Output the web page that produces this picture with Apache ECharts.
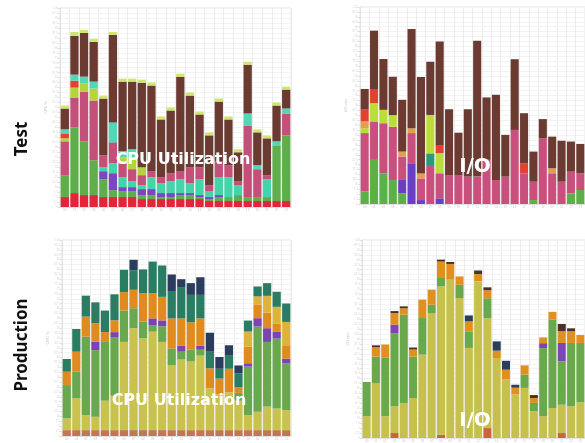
<!DOCTYPE html>
<html>
<head>
<meta charset="utf-8">
<script src="https://cdn.jsdelivr.net/npm/echarts@6/dist/echarts.min.js"></script>
<style>
  html, body { margin: 0; padding: 0; background: #fff; }
  #chart { width: 585px; height: 443px; }
</style>
</head>
<body>
<div id="chart"></div>
<script>
// hourly buckets, same for all four panels
const hours = ["00","01","02","03","04","05","06","07","08","09","10","11",
               "12","13","14","15","16","17","18","19","20","21","22","23"];

// Test - CPU Utilization (stacked, bottom -> top)
const testCpuRed    = [5,7,6,6,5,5,5,5,4,4,4,4,4,4,4,3,3,3,3,3,3,3,3,3];
const testCpuGreen  = [11,33,27,17.5,9,3.5,3,3,2,2,1,1,2,2,1,1,2,2,3,2,2,2,28,33];
const testCpuPurple = [0,0,0,0,4,8.5,2,2,3,3,2,2,1,1,1,1,1,0,0,0,0,0,0,0];
const testCpuAqua   = [0,0,0,0,2,5,5,3,2,6,5,6,7,5,8,3,9,10,5,0,0,9,0,0];
const testCpuPink   = [17,15,25,30,6,10.5,7,6,5,3,3,4,4,8,6,3,8,6,2,36,14,2,0,11];
const testCpuLime   = [1.5,5,4,6,0,0,3,6,4,0,0,0,0,0,0,0,0,0,0,0,0,0,0,0];
const testCpuOrange = [2.5,3.5,0,0,0,0,0,0,0,0,0,0,0,0,0,0,0,0,0,0,0,0,0,0];
const testCpuMint   = [2,3,3.5,3.5,0,10,3,4,0,0,0,0,0,0,0,0,0,0,0,6,2,0,2,2.5];
const testCpuBrown  = [10.5,19.5,22,20,28.5,44,35,34,42.5,43,29,31.5,47.5,36,26.5,25,30,23,14.5,24.5,16.5,18.5,18,9.5];
const testCpuCap    = [1.5,2,1.5,1.5,1.5,1.5,1.5,1.5,1.5,1.5,1.5,1.5,1.5,1.5,1.5,1.5,1.5,1.5,1.5,1.5,1.5,1.5,1.5,1.5];

// Test - I/O
const testIoGreen  = [6.3,22.4,15.6,12.2,5.4,0,0,0,0,0,0,0,0,0,0,0,0,0,2,0,0,0,5.4,7.1];
const testIoPurple = [0,0,0,0,6.8,20.7,2,0,2.9,0,0,0,0,0,0,0,0,0,0,0,0,0,0,0];
const testIoPink   = [29.7,19.5,25.4,27,11.9,15.3,11,19.8,12.7,14.7,14.7,13.9,13.9,22.4,12.2,13.9,37.6,15.6,9.3,33.4,15.6,11.3,11,8.5];
const testIoTeal   = [0,0,0,0,0,0,0,5.9,0,0,0,0,0,0,0,0,0,0,0,0,0,0,0,0];
const testIoLime   = [2.5,9.3,6.8,5.9,0,0,0,19.5,10.2,0,0,0,0,0,0,0,0,0,0,0,0,0,0,0];
const testIoTan    = [3.4,0,0,0,2.5,2.5,2.5,0,0,0,0,0,0,0,0,0,0,0,0,0,2.5,0,0,0];
const testIoRed    = [6,6.8,0,0,0,0,0,0,4.2,0,0,0,0,0,0,0,0,5.1,0,0,0,0,0,0];
const testIoBrown  = [10.5,30,25.8,19.5,26.3,50.3,49,27,52.5,33.4,21.5,34.2,69,31.7,43.2,21.2,35.9,25.4,15.3,9.7,16.1,20.8,15.3,14.9];

// Production - CPU Utilization
const prodCpuBase   = [3,3,3,3,3,3,3,3,3,3,3,3,3,3,3,3,3,3,3,3,3,3,3,3];
const prodCpuOlive  = [6,16.2,7.7,6.8,15,17.5,45,52,46.8,50.2,45,33.2,36,35,38,21.3,18.3,19.3,15,7.7,9.4,12,11,10.2];
const prodCpuGreen  = [17,13.6,40,34,30,30,16,10.2,8.5,3.4,8,8.5,4,6,3,0,0,0,4,24.7,43.4,33,35.7,23.8];
const prodCpuPurple = [0,0,0,4.3,0,2.5,0,0,0,3.4,3,0,3,0,2,0,0,0,0,1.7,4.3,7,3.4,2.5];
const prodCpuOrange = [6.8,10.2,10.2,9.4,5,6,9.4,9.4,14.5,12.8,12,15.3,14,14,14,10.2,8,12,3,8.5,6.8,8,4.3,6.8];
const prodCpuYellow = [0,0,0,0,0,0,0,0,0,0,0,0,0,0,0,0,0,0,0,7.7,4.3,8.5,8.5,11.9];
const prodCpuTeal   = [6.5,11.6,10.7,10.7,11,13.3,11.4,10,12.2,16.2,16,13.6,16,14,12,8.5,5,7,7,5.6,5.1,6.5,7.7,9.4];
const prodCpuNavy   = [0,0,0,0,0,0,0,5.3,0,0,0,8.8,4,6,9,9.7,6,5,4,0,0,0,0,0];

// Production - I/O
const prodIoBase   = [0,0,0,2.5,0,0,0,0,1.7,0,0,0,0,5,0,0,0,0,0,0,0,2.5,0,0];
const prodIoOlive  = [11,27.6,11,13.5,17.7,20.2,42.1,63.1,74.9,80,70.7,45.5,79.1,55.5,40.4,29.5,22,25.3,13.5,10.9,15.2,14.3,16,18];
const prodIoGreen  = [17.3,13.5,29.5,37,44.6,21,18.5,4.2,4.2,0,6.7,8.4,0,10.1,0,0,0,6.7,4.2,34.5,44.6,21.9,32,30];
const prodIoPurple = [0,0,0,4.2,0,0,0,0,0,0,0,0,0,0,0,0,0,0,0,2.5,0,9.3,0,0];
const prodIoOrange = [0,4.7,6.7,5.9,3.2,3.5,9.3,7.6,8.3,7.9,4.2,5,3.7,4,3.7,5,3.4,4.7,2.5,2.9,3.9,5.9,5.9,4];
const prodIoNavy   = [0,0,0,0,0,0,0,0,0,0,0,3,0,0,4.7,4.5,1.5,0,0,0,0,0,0,0];
const prodIoDark   = [0,1,0,1,1,1,0,0,1,1,0,0,1.8,1.5,0,0,0,0,1.5,0,0,3.7,1.5,0];

const stackSeries = (idx, parts) =>
  parts.map(([name, data, color]) => ({
    name: name,
    type: "bar",
    stack: "s" + idx,
    xAxisIndex: idx,
    yAxisIndex: idx,
    data: data,
    barCategoryGap: "14%",
    itemStyle: { color: color },
    emphasis: { disabled: true },
  }));

const xAxisFor = (idx) => ({
  type: "category",
  gridIndex: idx,
  data: hours,
  axisLine: { lineStyle: { color: "#e2e2e2" } },
  axisTick: { show: false },
  axisLabel: { fontSize: 3, color: "#c8c8c8", margin: 2 },
  splitLine: { show: true, lineStyle: { color: "#ececec", width: 1 } },
});

const yAxisFor = (idx, name) => ({
  type: "value",
  gridIndex: idx,
  min: 0,
  max: 100,
  interval: 2.5,
  name: name,
  nameLocation: "middle",
  nameGap: 9,
  nameTextStyle: { fontSize: 4, color: "#b8c6d6" },
  axisLine: { show: true, lineStyle: { color: "#e2e2e2" } },
  axisTick: { show: true, length: 2, lineStyle: { color: "#e0e0e0" } },
  axisLabel: { fontSize: 3, color: "#d4d4d4", margin: 2 },
  splitLine: { lineStyle: { color: "#f3f3f3", width: 1 } },
});

const overlay = (text, x, y, size) => ({
  type: "text",
  x: x,
  y: y,
  z: 100,
  style: {
    text: text,
    fill: "#ffffff",
    font: "bold " + size + "px 'DejaVu Sans'",
    textAlign: "center",
    textVerticalAlign: "middle",
    shadowColor: "rgba(0,0,0,0.35)",
    shadowBlur: 3,
  },
});

const rowLabel = (text, y) => ({
  type: "text",
  x: 22,
  y: y,
  rotation: Math.PI / 2,
  style: {
    text: text,
    fill: "#111",
    font: "bold 17px 'Noto Sans'",
    textAlign: "center",
    textVerticalAlign: "middle",
  },
});

const chart = echarts.init(document.getElementById("chart"), null, { renderer: "canvas" });
chart.setOption({
  animation: false,
  backgroundColor: "#ffffff",
  grid: [
    { left: 60, top: 8, width: 231, height: 199, show: true, borderColor: "#e4e4e4" },
    { left: 360, top: 7, width: 232, height: 197, show: true, borderColor: "#e4e4e4" },
    { left: 62, top: 240, width: 229, height: 196, show: true, borderColor: "#e4e4e4" },
    { left: 362, top: 240, width: 232, height: 198, show: true, borderColor: "#e4e4e4" },
  ],
  xAxis: [xAxisFor(0), xAxisFor(1), xAxisFor(2), xAxisFor(3)],
  yAxis: [
    yAxisFor(0, "CPU %"),
    yAxisFor(1, "I/O ops"),
    yAxisFor(2, "CPU %"),
    yAxisFor(3, "I/O ops"),
  ],
  series: [
    ...stackSeries(0, [
      ["red", testCpuRed, "#e2263a"],
      ["green", testCpuGreen, "#5fae4b"],
      ["purple", testCpuPurple, "#7d45c2"],
      ["aqua", testCpuAqua, "#45d3a9"],
      ["pink", testCpuPink, "#c44f78"],
      ["lime", testCpuLime, "#b5d43a"],
      ["orange", testCpuOrange, "#e2432f"],
      ["mint", testCpuMint, "#52d8b6"],
      ["brown", testCpuBrown, "#6b3b32"],
      ["cap", testCpuCap, "#cde86a"],
    ]),
    ...stackSeries(1, [
      ["green", testIoGreen, "#5bb046"],
      ["purple", testIoPurple, "#6a3fc6"],
      ["pink", testIoPink, "#c9507c"],
      ["teal", testIoTeal, "#2a9a78"],
      ["lime", testIoLime, "#bcdc3a"],
      ["tan", testIoTan, "#e0a050"],
      ["red", testIoRed, "#e2432f"],
      ["brown", testIoBrown, "#6b3b32"],
    ]),
    ...stackSeries(2, [
      ["base", prodCpuBase, "#c47650"],
      ["olive", prodCpuOlive, "#c9c24f"],
      ["green", prodCpuGreen, "#6aa84f"],
      ["purple", prodCpuPurple, "#7b44b3"],
      ["orange", prodCpuOrange, "#e08b1f"],
      ["yellow", prodCpuYellow, "#dcb43a"],
      ["teal", prodCpuTeal, "#2a7d62"],
      ["navy", prodCpuNavy, "#2b3d5e"],
    ]),
    ...stackSeries(3, [
      ["base", prodIoBase, "#c8653c"],
      ["olive", prodIoOlive, "#c6c04c"],
      ["green", prodIoGreen, "#6aa84c"],
      ["purple", prodIoPurple, "#7d45b8"],
      ["orange", prodIoOrange, "#e0901e"],
      ["navy", prodIoNavy, "#2c3f5a"],
      ["dark", prodIoDark, "#4a3326"],
    ]),
  ],
  graphic: [
    rowLabel("Test", 139),
    rowLabel("Production", 345),
    overlay("CPU Utilization", 183, 160, 16),
    overlay("I/O", 475, 167, 20),
    overlay("CPU Utilization", 179, 401, 16),
    overlay("I/O", 475, 421, 20),
  ],
});
</script>
</body>
</html>
